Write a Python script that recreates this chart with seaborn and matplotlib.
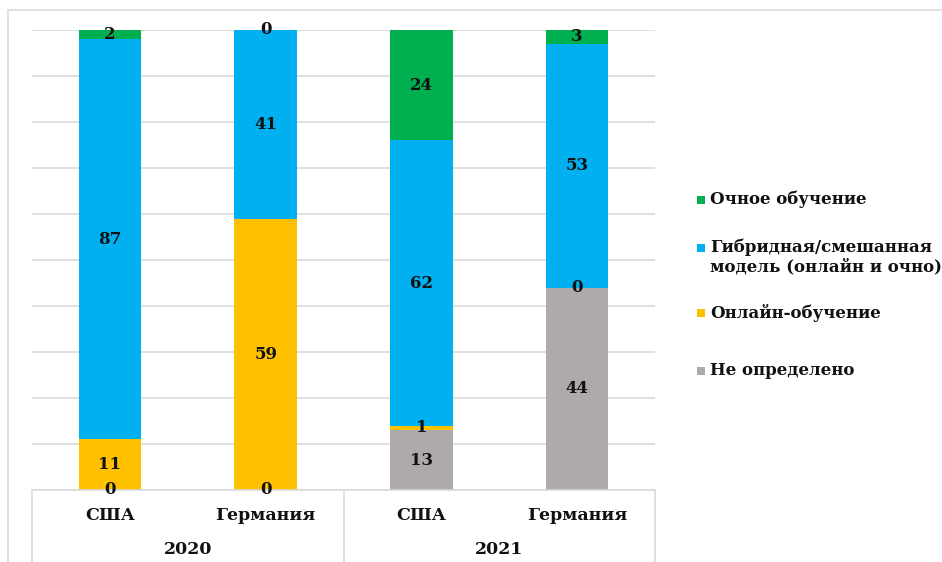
import numpy as np
import pandas as pd
import matplotlib
matplotlib.use("Agg")
import matplotlib.pyplot as plt
import seaborn as sns
from matplotlib.patches import Rectangle

years = ["2020", "2020", "2021", "2021"]
countries = ["США", "Германия", "США", "Германия"]
# bottom -> top
undefined = [0, 0, 13, 44]
online = [11, 59, 1, 0]
hybrid = [87, 41, 62, 53]
offline = [2, 0, 24, 3]

series_names = ["Не определено", "Онлайн-обучение",
                "Гибридная/смешанная\nмодель (онлайн и очно)", "Очное обучение"]
colors = ["#AEAAAA", "#FFC000", "#00B0F0", "#00B050"]

sns.set_theme(style="white")
plt.rcParams['font.family'] = ['DejaVu Serif']

df = pd.DataFrame({"key": [f"{y} {c}" for y, c in zip(years, countries)],
                   "Не определено": undefined, "Онлайн-обучение": online,
                   "Гибридная": hybrid, "Очное": offline})
layers = ["Не определено", "Онлайн-обучение", "Гибридная", "Очное"]
cum = df[layers].cumsum(axis=1)

W, H = 942, 562
fig = plt.figure(figsize=(W / 100, H / 100), dpi=100)
# outer frame
fig.add_artist(plt.Line2D([8 / W, 1], [1 - 10 / H, 1 - 10 / H], color="#D9D9D9", lw=1.2))
fig.add_artist(plt.Line2D([8 / W, 8 / W], [0, 1 - 10 / H], color="#D9D9D9", lw=1.2))

ax = fig.add_axes([32 / W, 72 / H, 623 / W, 460 / H])

# stacked bars: draw cumulative totals, tallest first
for i in range(len(layers) - 1, -1, -1):
    sns.barplot(x=df["key"], y=cum[layers[i]], color=colors[i], width=0.4,
                saturation=1, ax=ax, zorder=2, linewidth=0)

ax.set_ylim(0, 100)
ax.set_xlim(-0.5, 3.5)
ax.set_yticks(np.arange(0, 101, 10))
ax.yaxis.grid(True, color="#D9D9D9", lw=1.2, zorder=0)
ax.set_axisbelow(True)
ax.set_yticklabels([])
ax.tick_params(left=False, bottom=False)
ax.set_xticks([])
ax.set_xlabel("")
ax.set_ylabel("")
for s in ax.spines.values():
    s.set_visible(False)

# value labels
for j in range(len(df)):
    base = 0
    for i, name in enumerate(layers):
        v = df[name].iloc[j]
        ax.text(j, base + v / 2, f"{v}", ha="center", va="center",
                fontsize=12, fontweight="bold", color="#111111", zorder=5)
        base += v

# category table below
tc = "#D9D9D9"
ax.plot([0, 1], [0, 0], transform=ax.transAxes, color=tc, lw=1.2, clip_on=False)
for xa in [0, 0.5, 1]:
    ax.plot([xa, xa], [0, -0.2], transform=ax.transAxes, color=tc, lw=1.2, clip_on=False)
trans = ax.get_xaxis_transform()
for j, c in enumerate(countries):
    ax.text(j, -25 / 460, c, transform=trans, ha="center", va="center",
            fontsize=12.5, fontweight="bold", color="#111111")
for k, y in enumerate(["2020", "2021"]):
    ax.text(2 * k + 0.5, -59 / 460, y, transform=trans, ha="center", va="center",
            fontsize=12.5, fontweight="bold", color="#111111")

# legend (manual, to match uneven spacing)
leg_y = [200, 248, 313, 371]
for name, col, yy in zip(series_names[::-1], colors[::-1], leg_y):
    fig.add_artist(Rectangle((697 / W, 1 - (yy + 4) / H), 8 / W, 8 / H,
                             facecolor=col, edgecolor="none", transform=fig.transFigure))
    fig.text(710 / W, 1 - (yy - 9) / H, name, ha="left", va="top",
             fontsize=12, fontweight="bold", color="#111111", linespacing=1.15)

fig.savefig("out.png", dpi=100)
